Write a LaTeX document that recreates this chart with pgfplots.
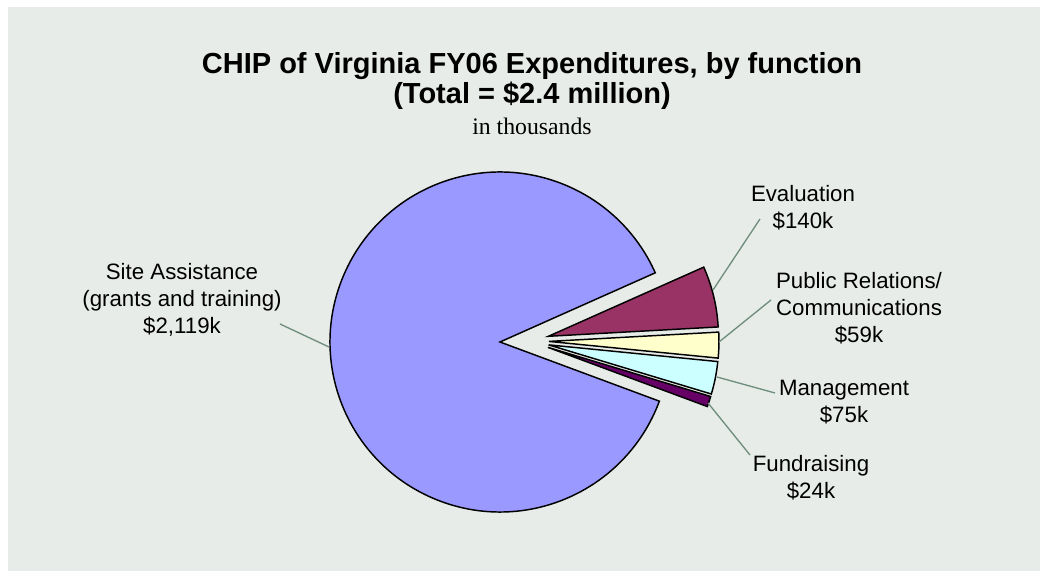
\documentclass[border=0pt]{standalone}
\usepackage{pgfplots}
\pgfplotsset{compat=1.18}
\usepackage{pgfplotstable}
\usepackage{fontspec}
\setmainfont{Liberation Sans}
\newfontfamily\seriffont{Liberation Serif}
\definecolor{cSite}{HTML}{9999FF}
\definecolor{cEval}{HTML}{993366}
\definecolor{cPR}{HTML}{FFFFCC}
\definecolor{cMgmt}{HTML}{CCFFFF}
\definecolor{cFund}{HTML}{660066}
\definecolor{panel}{HTML}{E8ECE8}
\definecolor{leader}{RGB}{110,142,126}

% slices in clockwise order, starting at the top edge of Evaluation
\pgfplotstableread[col sep=comma]{
name,value,explode,color
Evaluation,140,1,cEval
PublicRelations,59,1,cPR
Management,75,1,cMgmt
Fundraising,24,1,cFund
SiteAssistance,2119,0,cSite
}\piedata

\begin{document}
\begin{tikzpicture}
\begin{axis}[x=0.75pt, y=0.75pt, xmin=0, xmax=1040, ymin=0, ymax=571,
  hide axis, clip=false, scale only axis]
% background
\fill[white] (axis cs:0,0) rectangle (axis cs:1040,571);
\fill[panel] (axis cs:8,0) rectangle (axis cs:1040,564);

% total
\def\total{0}
\pgfplotsforeachungrouped \i in {0,...,4}{%
  \pgfplotstablegetelem{\i}{value}\of\piedata
  \pgfmathsetmacro\total{\total+\pgfplotsretval}%
}
\def\astart{24.0}
\def\cxo{500}\def\cyo{229}
\pgfplotsforeachungrouped \i in {0,...,4}{%
  \pgfplotstablegetelem{\i}{value}\of\piedata \let\v\pgfplotsretval
  \pgfplotstablegetelem{\i}{explode}\of\piedata \let\ex\pgfplotsretval
  \pgfplotstablegetelem{\i}{color}\of\piedata \let\col\pgfplotsretval
  \pgfmathsetmacro\frac{\v/\total}%
  \pgfmathsetmacro\aend{\astart-360*\frac}%
  \pgfmathsetmacro\amid{(\astart+\aend)/2}%
  \pgfmathsetmacro\cx{\cxo+\ex*(29*cos(2)+20*cos(\amid))}%
  \pgfmathsetmacro\cy{\cyo+\ex*(29*sin(2)+20*sin(\amid))}%
  \pgfmathsetmacro\px{\cx+170*cos(\astart)}%
  \pgfmathsetmacro\py{\cy+170*sin(\astart)}%
  \edef\tmp{\noexpand\filldraw[fill=\col, draw=black, line width=1.1pt, line join=miter]
    (axis cs:\cx,\cy) -- (axis cs:\px,\py)
    arc[start angle=\astart, end angle=\aend, radius=127.5pt] -- cycle;}%
  \tmp
  \let\astart\aend
}

% leader lines
\draw[leader, line width=1pt] (axis cs:280,247) -- (axis cs:329,224);
\draw[leader, line width=1pt] (axis cs:713,281) -- (axis cs:760,352);
\draw[leader, line width=1pt] (axis cs:719,229) -- (axis cs:771,271);
\draw[leader, line width=1pt] (axis cs:717,194) -- (axis cs:775,178);
\draw[leader, line width=1pt] (axis cs:708,168) -- (axis cs:750,116);

% labels
\tikzset{lab/.style={align=center, inner sep=0pt, font=\fontsize{16.7pt}{20.3pt}\selectfont}}
\node[lab] at (axis cs:182,271) {Site Assistance\\(grants and training)\\\$2,119k};
\node[lab] at (axis cs:803,363) {Evaluation\\\$140k};
\node[lab] at (axis cs:859,263) {Public Relations/\\Communications\\\$59k};
\node[lab] at (axis cs:844,169) {Management\\\$75k};
\node[lab] at (axis cs:811,93) {Fundraising\\\$24k};

% titles
\node[anchor=base, inner sep=0pt, font=\fontsize{21.75pt}{24pt}\selectfont\bfseries] at (axis cs:532,497.7) {CHIP of Virginia FY06 Expenditures, by function};
\node[anchor=base, inner sep=0pt, font=\fontsize{21.75pt}{24pt}\selectfont\bfseries] at (axis cs:532,467.5) {(Total = \$2.4 million)};
\node[anchor=base, inner sep=0pt, font=\seriffont\fontsize{17.8pt}{20pt}\selectfont] at (axis cs:532,436) {in thousands};
\end{axis}
\pgfresetboundingbox
\path[use as bounding box] (current axis.south west) rectangle (current axis.north east);
\end{tikzpicture}
\end{document}
